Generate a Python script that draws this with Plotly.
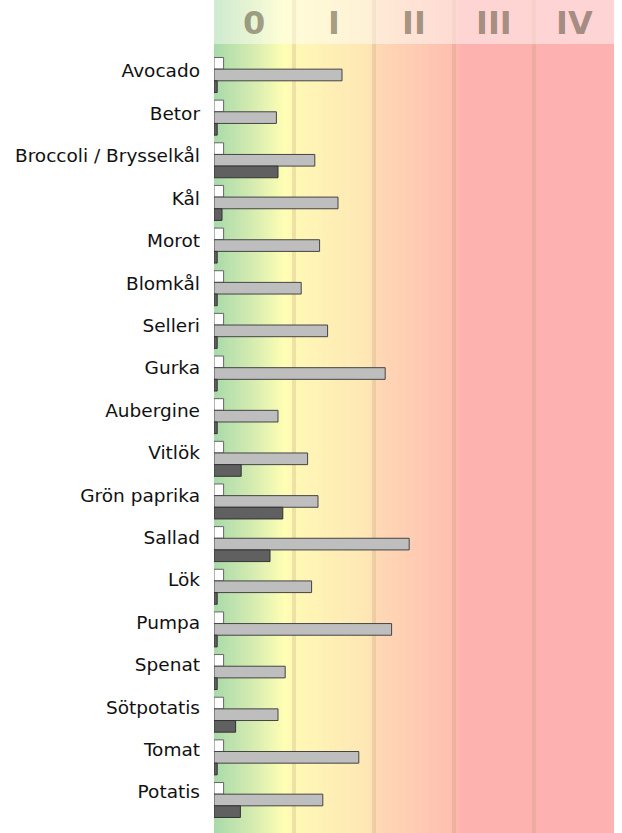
import plotly.graph_objects as go

categories = ["Avocado", "Betor", "Broccoli / Brysselkål", "Kål", "Morot", "Blomkål",
              "Selleri", "Gurka", "Aubergine", "Vitlök", "Grön paprika", "Sallad",
              "Lök", "Pumpa", "Spenat", "Sötpotatis", "Tomat", "Potatis"]
white_vals = [0.12] * 18
gray_vals = [1.60, 0.78, 1.26, 1.55, 1.32, 1.09, 1.42, 2.14, 0.80, 1.17, 1.30, 2.44,
             1.22, 2.22, 0.89, 0.80, 1.81, 1.36]
dark_vals = [0.04, 0.04, 0.80, 0.10, 0.04, 0.04, 0.04, 0.04, 0.04, 0.34, 0.86, 0.70,
             0.04, 0.04, 0.04, 0.27, 0.04, 0.33]
band_labels = ["0", "I", "II", "III", "IV"]

ypos = list(range(len(categories)))
PX = 42.65  # pixels per category row
label_pos = [i - (4 + 0.24 * i) / PX for i in ypos]

fig = go.Figure()
fig.add_trace(go.Bar(y=ypos, x=white_vals, orientation="h", marker=dict(color="#ffffff", line=dict(color="#666666", width=1)), showlegend=False, hoverinfo="skip"))
fig.add_trace(go.Bar(y=ypos, x=gray_vals, orientation="h", marker=dict(color="#bebebe", line=dict(color="#444444", width=1)), showlegend=False, hoverinfo="skip"))
fig.add_trace(go.Bar(y=ypos, x=dark_vals, orientation="h", marker=dict(color="#606060", line=dict(color="#333333", width=1)), showlegend=False, hoverinfo="skip"))

# background gradient (color stops in band units)
stops = [(0.0, (168, 218, 170)), (0.45, (210, 234, 176)), (0.88, (255, 254, 180)),
         (1.0, (255, 248, 182)), (1.95, (254, 230, 180)), (2.05, (254, 216, 180)),
         (2.95, (254, 192, 177)), (3.1, (254, 178, 176)), (5.0, (253, 177, 177))]

def col(x):
    for (x0, c0), (x1, c1) in zip(stops[:-1], stops[1:]):
        if x0 <= x <= x1:
            t = (x - x0) / (x1 - x0)
            return "rgb(%d,%d,%d)" % tuple(round(a + (b - a) * t) for a, b in zip(c0, c1))
    return "rgb(%d,%d,%d)" % stops[-1][1]

shapes = []
N = 200
for i in range(N):
    x0 = 5 * i / N
    x1 = 5 * (i + 1) / N
    shapes.append(dict(type="rect", xref="x", yref="paper", x0=x0, x1=x1 + 0.01, y0=0, y1=1,
                       fillcolor=col((x0 + x1) / 2), line=dict(width=0), layer="below"))
for b in range(1, 5):
    shapes.append(dict(type="line", xref="x", yref="paper", x0=b, x1=b, y0=0, y1=1,
                       line=dict(color="rgba(190,150,110,0.25)", width=4), layer="below"))
shapes.append(dict(type="rect", xref="x", yref="paper", x0=0, x1=5, y0=1 - 44 / 833, y1=1,
                   fillcolor="rgba(255,255,255,0.45)", line=dict(width=0), layer="below"))

annotations = []
for i, lab in enumerate(band_labels):
    annotations.append(dict(x=i + 0.5, y=1 - 23 / 833, xref="x", yref="paper", text="<b>%s</b>" % lab,
                            showarrow=False, font=dict(family="DejaVu Sans", size=32, color="rgba(90,80,60,0.55)"),
                            xanchor="center", yanchor="middle"))

fig.update_layout(
    width=622, height=833,
    margin=dict(l=214, r=8, t=0, b=0, autoexpand=False),
    paper_bgcolor="white", plot_bgcolor="rgba(0,0,0,0)",
    barmode="group", bargap=0.18, bargroupgap=0,
    shapes=shapes, annotations=annotations,
    font=dict(family="DejaVu Sans", size=18.5, color="#111111"),
)
fig.update_xaxes(range=[0, 5], showgrid=False, zeroline=False, showticklabels=False, ticks="", fixedrange=True,
                 automargin=False)
fig.update_yaxes(range=[17.774, -1.758], tickvals=label_pos, ticktext=categories, showgrid=False, zeroline=False,
                 ticks="", ticklabelstandoff=13, automargin=False, fixedrange=True,
                 tickfont=dict(size=18.5, family="DejaVu Sans", color="#111111"))

fig.write_html("out.html", config={"displayModeBar": False, "staticPlot": True},
               post_script="document.body.style.margin='0';document.body.style.overflow='hidden';")
